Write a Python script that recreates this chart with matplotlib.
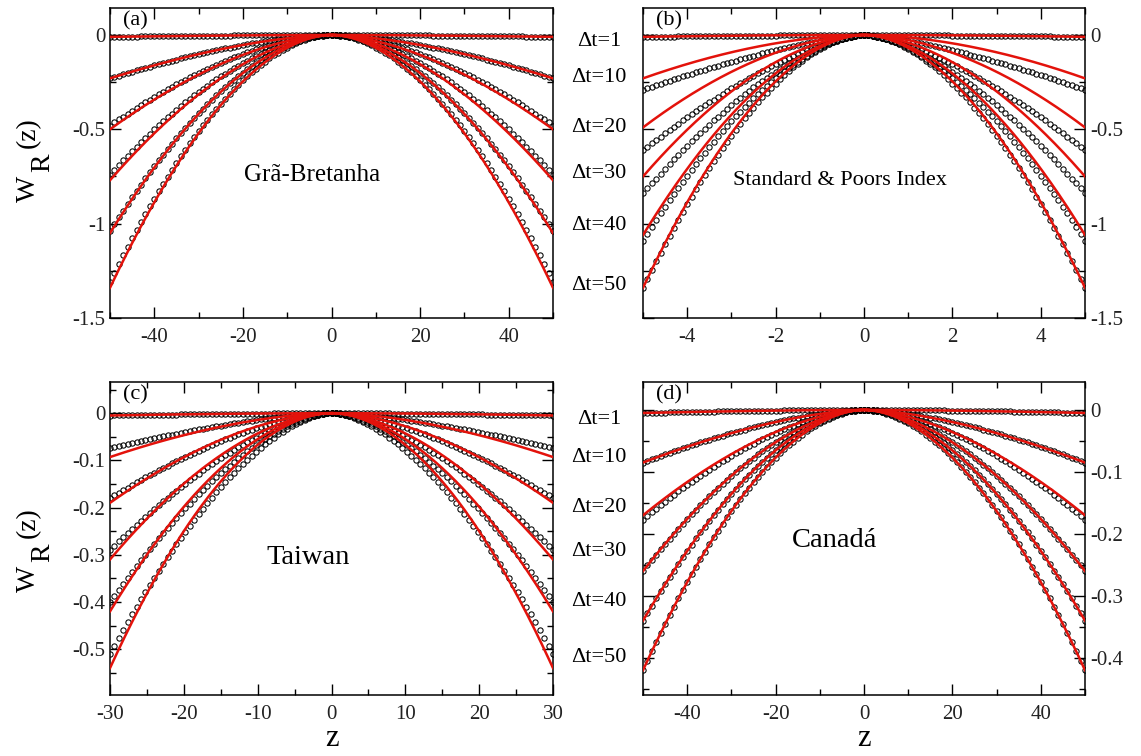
import numpy as np
import matplotlib.pyplot as plt
from matplotlib.ticker import MultipleLocator

plt.rcParams['font.family'] = ['Liberation Serif', 'DejaVu Serif']

# Δt values shown between the panels
dt_labels = ['Δt=1', 'Δt=10', 'Δt=20', 'Δt=30', 'Δt=40', 'Δt=50']

# value of W_R at the edge of the z range, data and fit,
# plus the shape exponent of each curve
names = ['Grã-Bretanha', 'Standard & Poors Index', 'Taiwan', 'Canadá']
tags = ['(a)', '(b)', '(c)', '(d)']
zmax = [50, 5, 30, 50]
zstep = [1.0, 0.1, 0.6, 1.0]

edge_data = [
    [-0.01, -0.23, -0.48, -0.74, -1.04, -1.31],
    [-0.01, -0.29, -0.61, -0.84, -1.09, -1.34],
    [-0.005, -0.074, -0.18, -0.29, -0.40, -0.51],
    [-0.005, -0.085, -0.177, -0.26, -0.34, -0.42],
]
edge_fit = [
    [-0.01, -0.23, -0.50, -0.77, -1.05, -1.34],
    [-0.01, -0.23, -0.49, -0.75, -1.06, -1.34],
    [-0.005, -0.093, -0.19, -0.31, -0.42, -0.54],
    [-0.005, -0.085, -0.17, -0.26, -0.34, -0.42],
]
alpha_data = [
    [1.6, 1.6, 1.7, 1.75, 1.8, 1.85],
    [1.4, 1.4, 1.5, 1.6, 1.7, 1.8],
    [1.5, 1.5, 1.6, 1.6, 1.65, 1.7],
    [1.6, 1.6, 1.7, 1.75, 1.8, 1.85],
]
alpha_fit = [
    [1.6, 1.6, 1.7, 1.75, 1.8, 1.85],
    [1.8, 1.8, 1.8, 1.8, 1.8, 1.85],
    [1.7, 1.7, 1.75, 1.8, 1.85, 1.9],
    [1.6, 1.6, 1.7, 1.75, 1.8, 1.85],
]

ylims = [(-1.5, 0.143), (-1.5, 0.143), (-0.597, 0.066), (-0.46, 0.045)]
xmajor = [20, 2, 10, 20]
xminor = [10, 1, 5, 10]
ymajor = [0.5, 0.5, 0.1, 0.1]
yminor = [0.25, 0.25, 0.05, 0.05]
text_pos = [(-4.3, -0.74), (-0.54, -0.77), (-3.1, -0.305), (-6.6, -0.21)]
text_size = [18, 16, 20.5, 20.5]

# label heights (pixels from top of the figure)
label_y_top = [42, 78, 127, 173, 225, 285]
label_y_bot = [420, 458, 507, 552, 602, 658]

W, H = 1141, 756
fig = plt.figure(figsize=(W / 100, H / 100), dpi=100)

boxes = [
    (110, 8, 553, 318),
    (643, 8, 1085, 318),
    (110, 382, 553, 695),
    (643, 382, 1085, 695),
]


def fmt(v, pos=None):
    return '%g' % round(v, 6)


for i in range(4):
    x0, y0, x1, y1 = boxes[i]
    ax = fig.add_axes([x0 / W, 1 - y1 / H, (x1 - x0) / W, (y1 - y0) / H])
    zm = zmax[i]
    z = np.arange(-zm, zm + zstep[i] / 2, zstep[i])
    zf = np.linspace(-zm, zm, 600)
    for k in range(6):
        wd = edge_data[i][k] * np.abs(z / zm) ** alpha_data[i][k]
        wf = edge_fit[i][k] * np.abs(zf / zm) ** alpha_fit[i][k]
        ax.plot(z, wd, 'o', ms=3.8, mfc='none', mec='black', mew=0.75, zorder=2)
        ax.plot(zf, wf, '-', color='#e3120b', lw=1.8, zorder=3)
    ax.set_xlim(-zm, zm)
    ax.set_ylim(*ylims[i])
    ax.xaxis.set_major_locator(MultipleLocator(xmajor[i]))
    ax.xaxis.set_minor_locator(MultipleLocator(xminor[i]))
    ax.yaxis.set_major_locator(MultipleLocator(ymajor[i]))
    ax.yaxis.set_minor_locator(MultipleLocator(yminor[i]))
    ax.tick_params(which='both', direction='in', top=True, right=True,
                   labelsize=15, labelcolor='#222222')
    ax.tick_params(which='major', length=8, width=1)
    ax.tick_params(which='minor', length=4, width=1)
    ax.tick_params(axis='x', pad=7)
    for sp in ax.spines.values():
        sp.set_linewidth(1.1)
    ax.xaxis.set_major_formatter(plt.FuncFormatter(fmt))
    ax.yaxis.set_major_formatter(plt.FuncFormatter(fmt))
    if i in (1, 3):
        ax.yaxis.tick_right()
        ax.tick_params(which='both', left=True, direction='in')
    if i in (2, 3):
        ax.set_xlabel('z', fontsize=22, labelpad=0)
    ax.text(0.03, 0.99, tags[i], transform=ax.transAxes, fontsize=16,
            va='top', ha='left')
    ax.text(text_pos[i][0], text_pos[i][1], names[i], fontsize=text_size[i],
            ha='center', va='center')


def px(x, y):
    return x / W, 1 - y / H


# W_R(z) axis labels: big W, full size R lowered, then (z)
for dy in (0, 390):
    for s, (x, y) in [('W', (35, 592)), ('R', (49, 562)), ('(z)', (35, 538))]:
        fx, fy = px(x, y - dy)
        fig.text(fx, fy, s, fontsize=20, rotation=90, rotation_mode='anchor',
                 ha='left', va='baseline')

for ys in (label_y_top, label_y_bot):
    for k in range(6):
        fig.text(599 / W, 1 - ys[k] / H, dt_labels[k], fontsize=16,
                 ha='center', va='center')

fig.savefig('out.png', dpi=100)
